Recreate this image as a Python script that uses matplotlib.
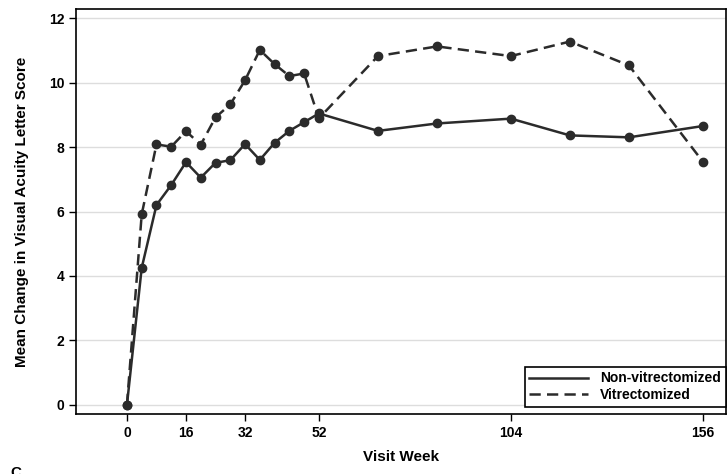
import matplotlib
matplotlib.use("Agg")
from matplotlib import pyplot as plt

plt.rcParams['font.family'] = ['Liberation Sans Narrow', 'Liberation Sans', 'DejaVu Sans']

weeks = [0, 4, 8, 12, 16, 20, 24, 28, 32, 36, 40, 44, 48, 52, 68, 84, 104, 120, 136, 156]
non_vit = [0, 4.25, 6.2, 6.82, 7.53, 7.05, 7.51, 7.59, 8.09, 7.6, 8.13, 8.5, 8.77, 9.04,
           8.5, 8.73, 8.88, 8.36, 8.3, 8.65]
vit = [0, 5.91, 8.08, 8.01, 8.49, 8.07, 8.92, 9.32, 10.07, 11.01, 10.57, 10.2, 10.28, 8.89,
       10.82, 11.12, 10.82, 11.27, 10.53, 7.55]
xticks = [0, 16, 32, 52, 104, 156]
yticks = [0, 2, 4, 6, 8, 10, 12]

fig = plt.figure(figsize=(7.27, 4.74), dpi=100)
ax = fig.add_axes([76 / 727, 1 - 414 / 474, 650 / 727, 405 / 474])

c = '#2b2b2b'
ax.plot(weeks, non_vit, color=c, lw=1.8, marker='o', ms=6, label='Non-vitrectomized', zorder=3)
ax.plot(weeks, vit, color=c, lw=1.8, marker='o', ms=6, dashes=(4.5, 2.5),
        label='Vitrectomized', zorder=3)

ax.set_xlim(-13.8, 162.3)
ax.set_ylim(-0.28, 12.28)
ax.set_xticks(xticks)
ax.set_yticks(yticks)
ax.yaxis.grid(True, color='#dddddd', lw=1)
ax.set_axisbelow(True)
ax.tick_params(axis='both', direction='out', length=5, width=1, labelsize=10)
for lab in ax.get_xticklabels() + ax.get_yticklabels():
    lab.set_fontweight('bold')
for s in ax.spines.values():
    s.set_linewidth(1.2)

ax.set_xlabel('Visit Week', fontsize=11, fontweight='bold', labelpad=7)
ax.set_ylabel('Mean Change in Visual Acuity Letter Score', fontsize=11, fontweight='bold', labelpad=14)

leg = ax.legend(loc='lower right', bbox_to_anchor=(1.0, 7 / 405), fancybox=False,
                edgecolor='black', framealpha=1, prop={'weight': 'bold', 'size': 10},
                borderaxespad=0, handlelength=4.2, labelspacing=0.2, borderpad=0.35,
                handletextpad=0.9)
leg.get_frame().set_linewidth(1.2)
for h in leg.get_lines():
    h.set_marker('')

fig.text(10 / 727, -0.012, 'C', fontsize=11, fontweight='bold', va='bottom')

fig.savefig('out.png', dpi=100)
